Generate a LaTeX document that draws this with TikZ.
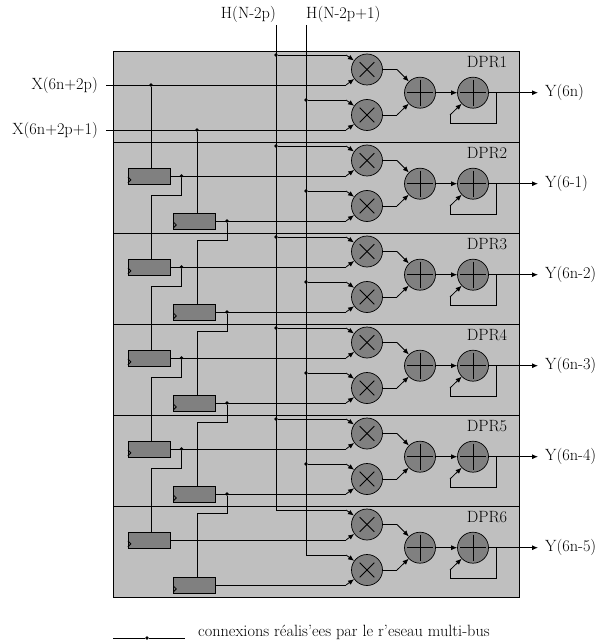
\documentclass[tikz,border=0pt]{standalone}
\usepackage{fontspec}
\usepackage{tikz}
\usetikzlibrary{arrows.meta}
\usetikzlibrary{positioning}

\tikzset{
    wire/.style={line width=0.8pt, draw=black},
    feed/.style={wire, -{Latex[length=6pt,width=5pt]}},
    rowbox/.style={draw=black, line width=0.8pt, fill=gray!50},
    opnode/.style={circle, draw=black, line width=0.7pt, fill=gray, minimum size=31pt, inner sep=0pt},
    regnode/.style={rectangle, draw=black, line width=0.8pt, fill=gray, minimum width=42pt, minimum height=16pt, inner sep=0pt},
    dotnode/.style={circle, fill=black, minimum size=3.6pt, inner sep=0pt},
    lbl/.style={font=\fontsize{16.3}{18}\selectfont, inner sep=0pt},
}

\begin{document}
\begin{tikzpicture}[x=1pt, y=-1pt]

    \useasboundingbox (0,0) rectangle (595,644);

    % Top labels and inputs
    \node[lbl, anchor=south east, inner ysep=2pt] (hlow) at (276,25) {H(N-2p)};
    \node[lbl, anchor=south west, inner ysep=2pt] (hhigh) at (306,25) {H(N-2p+1)};
    \node[lbl, anchor=east, inner xsep=8pt] (xlow) at (106,85) {X(6n+2p)};
    \node[lbl, anchor=east, inner xsep=8pt] (xhigh) at (106,130) {X(6n+2p+1)};

    % One block per row
    \foreach \row in {1,...,6} {
        \pgfmathsetmacro{\top}{51+91*(\row-1)}
        \begin{scope}[shift={(0,\top)}]
            \draw[rowbox] (113,0) rectangle (519,91);
            \node[lbl] (dpr\row) at (487,11) {DPR\row};

            % Operators
            \node[opnode] (mula\row) at (367,18.5) {};
            \node[opnode] (mulb\row) at (367,64) {};
            \node[opnode] (adda\row) at (420,41.7) {};
            \node[opnode] (addb\row) at (473,41.7) {};
            \foreach \op in {mula\row,mulb\row} {
                \draw[wire, shorten >=5.5pt, shorten <=5.5pt] (\op.45) -- (\op.225);
                \draw[wire, shorten >=5.5pt, shorten <=5.5pt] (\op.135) -- (\op.315);
            }
            \foreach \op in {adda\row,addb\row} {
                \draw[wire, shorten >=3pt, shorten <=3pt] (\op.north) -- (\op.south);
                \draw[wire, shorten >=3pt, shorten <=3pt] (\op.west) -- (\op.east);
            }

            % Entry points of the multipliers
            \coordinate (ina\row) at (346,4);
            \coordinate (inb\row) at (346,34);
            \coordinate (inc\row) at (346,49);
            \coordinate (ind\row) at (346,79);

            % Tap points on the H buses
            \ifnum\row<6
                \node[dotnode] (hdota\row) at (276,4) {};
                \node[dotnode] (hdotb\row) at (306,49) {};
            \else
                \coordinate (hdota\row) at (276,4);
                \coordinate (hdotb\row) at (306,49);
            \fi
            \draw[wire] (hdota\row) -- (ina\row);
            \draw[wire] (hdotb\row) -- (inc\row);
            \draw[feed] (ina\row) -- (mula\row);
            \draw[feed] (inb\row) -- (mula\row);
            \draw[feed] (inc\row) -- (mulb\row);
            \draw[feed] (ind\row) -- (mulb\row);

            % Multipliers to adders
            \coordinate (benda\row) at (397,18.5);
            \coordinate (bendb\row) at (397,64);
            \draw[wire] (mula\row) -- (benda\row);
            \draw[wire] (mulb\row) -- (bendb\row);
            \draw[feed] (benda\row) -- (adda\row);
            \draw[feed] (bendb\row) -- (adda\row);
            \draw[feed] (adda\row) -- (addb\row);

            % Accumulator loop
            \coordinate (fb\row) at (496,41.7);
            \coordinate (loopa\row) at (496,72);
            \coordinate (loopb\row) at (450,72);
            \coordinate (loopc\row) at (450,64);
            \draw[wire] (fb\row) -- (loopa\row) -- (loopb\row) -- (loopc\row);
            \draw[feed] (loopc\row) -- (addb\row);
        \end{scope}
    }

    % Outputs
    \foreach \row/\txt in {1/Y(6n),2/Y(6-1),3/Y(6n-2),4/Y(6n-3),5/Y(6n-4),6/Y(6n-5)} {
        \node[lbl, anchor=west, inner xsep=7pt] (yout\row) at (538,{92.7+91*(\row-1)}) {\txt};
        \draw[feed] (addb\row) -- (yout\row.west);
    }

    % H buses
    \draw[wire] (hlow.south east) -- (hdota6);
    \draw[wire] (hhigh.south west) -- (hdotb6);

    % X inputs of the first row
    \node[dotnode] (xdota) at (151,85) {};
    \node[dotnode] (xdotb) at (197,130) {};
    \draw[wire] (xlow.east) -- (inb1);
    \draw[wire] (xhigh.east) -- (ind1);

    % Registers of rows 2 to 6
    \foreach \row in {2,...,6} {
        \pgfmathsetmacro{\top}{51+91*(\row-1)}
        \begin{scope}[shift={(0,\top)}]
            \node[regnode] (rega\row) at (149.3,34) {};
            \node[regnode] (regb\row) at (194.7,79) {};
            \draw[wire] ([yshift=1.5pt]rega\row.south west) -- ++(3,-3) -- ++(-3,-3);
            \draw[wire] ([yshift=1.5pt]regb\row.south west) -- ++(3,-3) -- ++(-3,-3);
        \end{scope}
        \draw[wire] (rega\row) -- (inb\row);
        \draw[wire] (regb\row) -- (ind\row);
    }
    \draw[wire] (xdota) -- (xdota |- rega2.north);
    \draw[wire] (xdotb) -- (xdotb |- regb2.north);

    % Chain from one register to the next
    \foreach \row/\nxt in {2/3,3/4,4/5,5/6} {
        \pgfmathsetmacro{\top}{51+91*(\row-1)}
        \begin{scope}[shift={(0,\top)}]
            \node[dotnode] (regdota\row) at (181.5,34) {};
            \node[dotnode] (regdotb\row) at (227,79) {};
            \draw[wire] (regdota\row) -- (181.5,53) -- (151,53) -- (xdota |- rega\nxt.north);
            \draw[wire] (regdotb\row) -- (227,98) -- (197,98) -- (xdotb |- regb\nxt.north);
        \end{scope}
    }

    % Legend
    \coordinate (lega) at (113,638);
    \coordinate (legb) at (185,638);
    \node[dotnode] (legdot) at (147,638) {};
    \draw[wire] (lega) -- (legdot) -- (legb);
    \node[lbl, anchor=west] (legtxt) at (198,632) {connexions r\'ealis'ees par le r'eseau multi-bus};

\end{tikzpicture}
\end{document}
